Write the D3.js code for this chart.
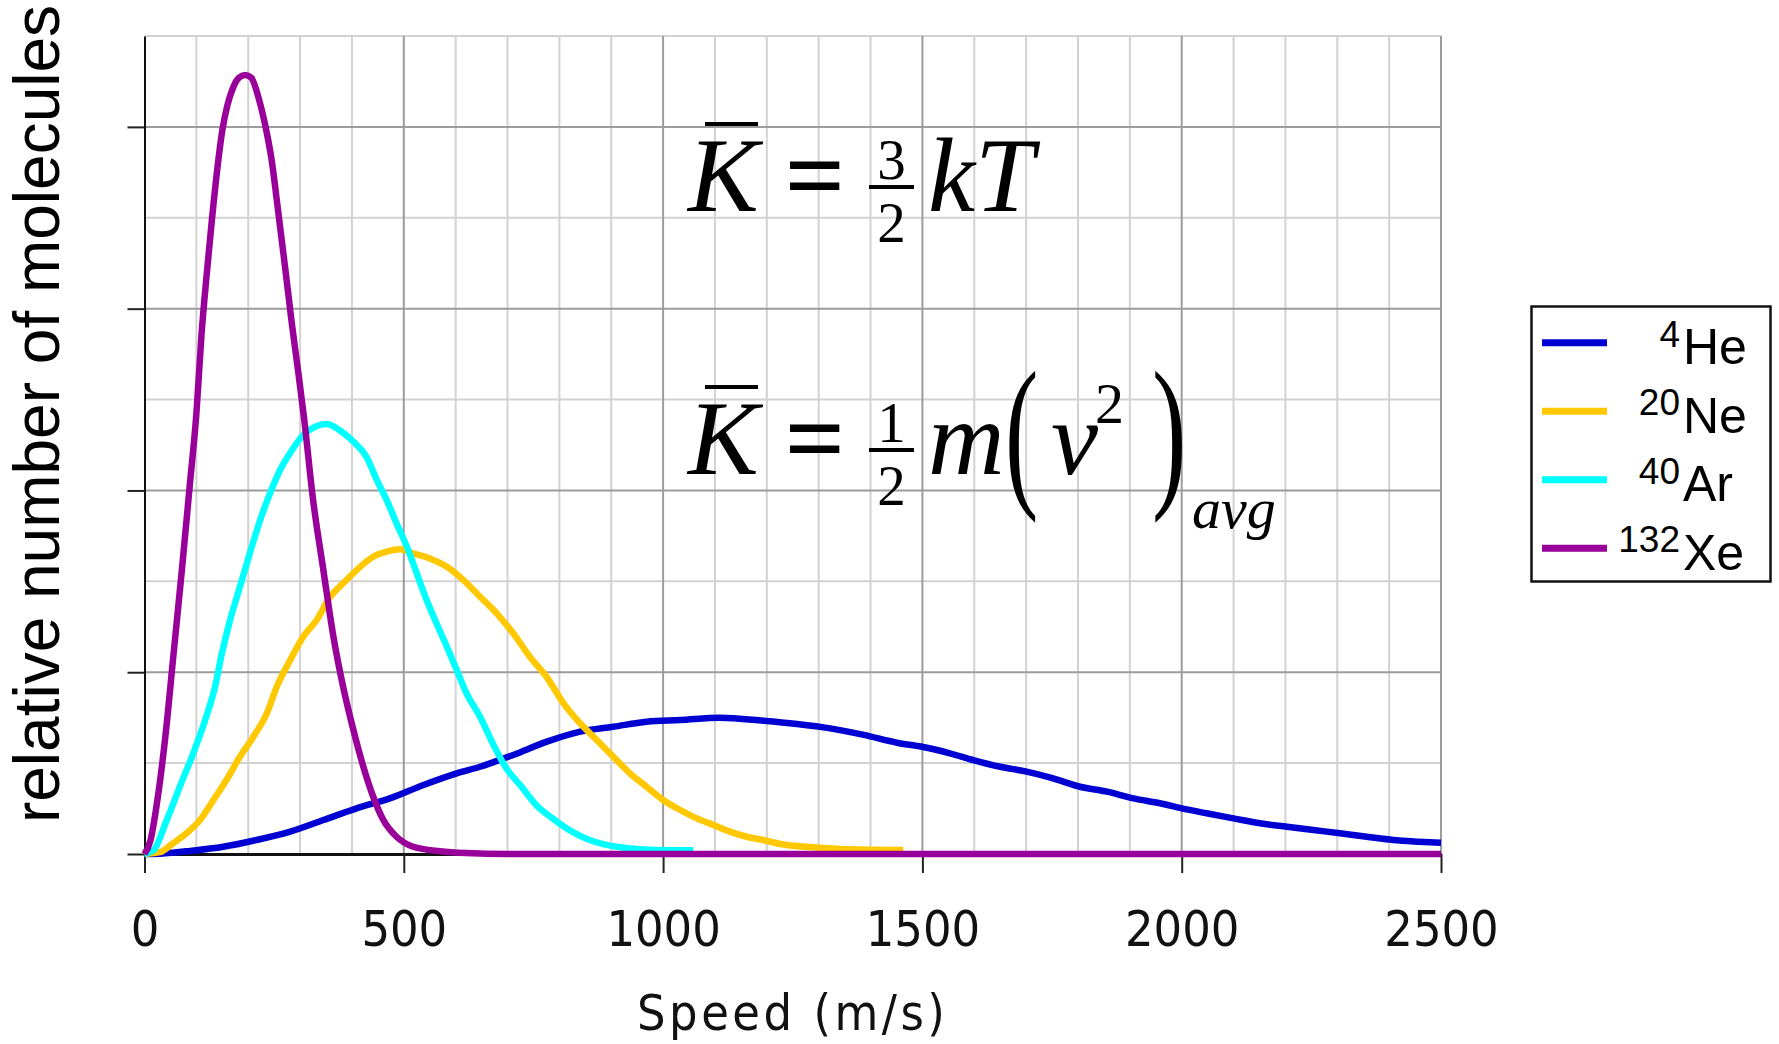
<!DOCTYPE html>
<html>
<head>
    <meta charset="utf-8">
    <title>Speed distribution of noble gas molecules</title>
    <script src="https://d3js.org/d3.v7.min.js"></script>
    <style>
        body {
            margin: 0;
            background: white;
        }
        .tick-label {
            font-family: 'DejaVu Sans Condensed', 'DejaVu Sans', sans-serif;
            font-stretch: condensed;
            font-size: 50px;
            fill: #111;
        }
        .eq {
            font-family: 'Liberation Serif', 'Times New Roman', serif;
            fill: black;
        }
        .legend-text {
            font-family: 'Liberation Sans', Arial, sans-serif;
            fill: black;
        }
    </style>
</head>
<body>
    <svg id='chart' width="1779" height="1044"></svg>

    <script>
        // speed (m/s) against relative number of molecules
        const he = [[0,0],[36,0.003],[88,0.017],[152,0.04],[216,0.077],[281,0.123],[345,0.187],[409,0.251],
            [473,0.306],[538,0.38],[602,0.444],[647,0.48],[711,0.545],[776,0.618],[840,0.673],[904,0.70],
            [968,0.728],[1033,0.737],[1110,0.75],[1193,0.733],[1258,0.715],[1322,0.691],[1387,0.655],
            [1451,0.612],[1499,0.59],[1553,0.554],[1598,0.517],[1650,0.48],[1701,0.453],[1752,0.416],
            [1804,0.37],[1856,0.343],[1907,0.306],[1958,0.279],[2000,0.251],[2048,0.224],[2100,0.196],
            [2151,0.169],[2203,0.15],[2254,0.132],[2305,0.114],[2357,0.095],[2408,0.077],[2456,0.068],[2500,0.062]];
        const ne = [[0,0],[30,0.01],[55,0.059],[81,0.114],[107,0.187],[133,0.297],[158,0.407],[184,0.535],
            [210,0.645],[236,0.774],[255,0.92],[281,1.067],[306,1.195],[332,1.287],[358,1.415],[383,1.489],
            [409,1.562],[441,1.635],[467,1.663],[493,1.676],[518,1.654],[550,1.626],[583,1.58],[615,1.507],
            [647,1.415],[679,1.324],[711,1.214],[743,1.085],[775,0.975],[808,0.829],[840,0.719],[872,0.627],
            [904,0.535],[936,0.444],[968,0.37],[1000,0.297],[1033,0.242],[1065,0.196],[1097,0.16],[1129,0.123],
            [1161,0.095],[1193,0.077],[1226,0.055],[1290,0.037],[1354,0.026],[1463,0.022]];
        const ar = [[0,0],[17,0.02],[43,0.187],[68,0.37],[94,0.554],[117,0.737],[136,0.92],[149,1.10],
            [165,1.287],[184,1.47],[203,1.654],[223,1.837],[242,1.984],[261,2.11],[284,2.22],[306,2.305],
            [329,2.35],[351,2.365],[377,2.33],[403,2.268],[428,2.185],[448,2.057],[467,1.947],[486,1.819],
            [506,1.69],[525,1.544],[544,1.397],[563,1.269],[583,1.14],[602,1.012],[621,0.884],[647,0.755],
            [673,0.60],[698,0.47],[727,0.37],[755,0.27],[785,0.20],[812,0.145],[840,0.10],[865,0.07],
            [891,0.05],[936,0.031],[988,0.022],[1058,0.02]];
        const xe = [[0,0],[12,0.08],[24,0.28],[40,0.64],[56,1.10],[72,1.56],[88,2.05],[100,2.42],[110,2.86],
            [120,3.19],[130,3.49],[140,3.76],[150,3.98],[160,4.12],[170,4.21],[182,4.27],[194,4.285],
            [206,4.27],[220,4.16],[232,4.02],[245,3.82],[258,3.53],[271,3.23],[284,2.92],[297,2.64],
            [308,2.39],[325,1.95],[345,1.56],[364,1.20],[383,0.92],[403,0.68],[422,0.48],[441,0.315],
            [460,0.19],[486,0.095],[518,0.04],[570,0.015],[620,0.005],[700,0],[2500,0]];

        const seriesNames = ['He', 'Ne', 'Ar', 'Xe'];
        const massNumbers = ['4', '20', '40', '132'];
        const seriesColors = ['#0000d2', '#ffc800', '#00ffff', '#990099'];
        const seriesData = [he, ne, ar, xe];

        const xTicks = [0, 500, 1000, 1500, 2000, 2500];
        const yTicks = [0, 1, 2, 3, 4];

        const margin = {top: 36, left: 144.5};
        const width = 1441 - margin.left;
        const height = 854 - margin.top;

        const svg = d3.select('#chart');
        const g = svg.append('g')
            .attr('transform', `translate(${margin.left},${margin.top})`);

        const x = d3.scaleLinear().domain([0, 2500]).range([0, width]);
        const y = d3.scaleLinear().domain([0, 4.5]).range([height, 0]);

        // grid: light every 100 m/s and half unit, darker at the labelled ticks
        g.selectAll('.vminor')
            .data(d3.range(100, 2501, 100).filter(d => d % 500 !== 0))
            .enter().append('line')
            .attr('x1', d => x(d)).attr('x2', d => x(d))
            .attr('y1', 0).attr('y2', height)
            .attr('stroke', '#d2d2d2').attr('stroke-width', 2);
        g.selectAll('.hminor')
            .data([0.5, 1.5, 2.5, 3.5, 4.5])
            .enter().append('line')
            .attr('x1', 0).attr('x2', width)
            .attr('y1', d => y(d)).attr('y2', d => y(d))
            .attr('stroke', '#d2d2d2').attr('stroke-width', 2);
        g.selectAll('.vmajor')
            .data(xTicks.slice(1))
            .enter().append('line')
            .attr('x1', d => x(d)).attr('x2', d => x(d))
            .attr('y1', 0).attr('y2', height)
            .attr('stroke', '#9c9c9c').attr('stroke-width', 2);
        g.selectAll('.hmajor')
            .data(yTicks.slice(1))
            .enter().append('line')
            .attr('x1', 0).attr('x2', width)
            .attr('y1', d => y(d)).attr('y2', d => y(d))
            .attr('stroke', '#9c9c9c').attr('stroke-width', 2);

        // axes
        const xAxis = d3.axisBottom(x)
            .tickValues(xTicks)
            .tickFormat(d3.format('d'))
            .tickSize(19)
            .tickSizeOuter(0)
            .tickPadding(37);
        const yAxis = d3.axisLeft(y)
            .tickValues(yTicks)
            .tickSize(17)
            .tickSizeOuter(0)
            .tickFormat('');

        const gy = g.append('g').call(yAxis);
        gy.select('.domain').attr('stroke', '#111').attr('stroke-width', 2);
        gy.selectAll('.tick line').attr('stroke', '#222').attr('stroke-width', 2);

        const gx = g.append('g')
            .attr('transform', `translate(0,${height})`)
            .call(xAxis);
        gx.select('.domain').attr('stroke', '#111').attr('stroke-width', 3);
        gx.selectAll('.tick line').attr('stroke', '#222').attr('stroke-width', 2);
        gx.selectAll('.tick text')
            .attr('class', 'tick-label')
            .attr('font-size', null)
            .attr('font-family', null);
        gx.attr('font-size', null).attr('font-family', null);
        gy.attr('font-size', null).attr('font-family', null);

        // curves
        const line = d3.line()
            .x(d => x(d[0]))
            .y(d => y(d[1]))
            .curve(d3.curveMonotoneX);

        g.selectAll('.curve')
            .data(seriesData)
            .enter().append('path')
            .attr('d', line)
            .attr('fill', 'none')
            .attr('stroke', (d, i) => seriesColors[i])
            .attr('stroke-width', 6.5)
            .attr('stroke-linejoin', 'round');

        // axis titles
        svg.append('text')
            .attr('class', 'tick-label')
            .attr('x', margin.left + width / 2)
            .attr('y', 1030)
            .style('text-anchor', 'middle')
            .style('letter-spacing', '3.5px')
            .text('Speed (m/s)');

        svg.append('text')
            .attr('transform', 'translate(59,414) rotate(-90)')
            .style('text-anchor', 'middle')
            .style('font-family', "'Liberation Sans', Arial, sans-serif")
            .style('font-size', '64px')
            .text('relative number of molecules');

        // equations
        function kBar(base) {
            svg.append('text').attr('class', 'eq')
                .attr('x', 688).attr('y', base)
                .style('font-size', '106px').style('font-style', 'italic')
                .text('K');
            svg.append('line')
                .attr('x1', 705).attr('x2', 758)
                .attr('y1', base - 87).attr('y2', base - 87)
                .attr('stroke', 'black').attr('stroke-width', 4);
            svg.append('text').attr('class', 'eq')
                .attr('x', 815).attr('y', base)
                .style('text-anchor', 'middle')
                .style('font-size', '106px').style('font-weight', 'bold')
                .text('=');
        }
        function fraction(base, num, den) {
            svg.append('line')
                .attr('x1', 869).attr('x2', 914)
                .attr('y1', base - 24).attr('y2', base - 24)
                .attr('stroke', 'black').attr('stroke-width', 4);
            svg.append('text').attr('class', 'eq')
                .attr('x', 891.5).attr('y', base - 32)
                .style('text-anchor', 'middle').style('font-size', '57px')
                .text(num);
            svg.append('text').attr('class', 'eq')
                .attr('x', 891.5).attr('y', base + 31)
                .style('text-anchor', 'middle').style('font-size', '57px')
                .text(den);
        }

        const b1 = 211, b2 = 474;
        kBar(b1);
        fraction(b1, '3', '2');
        svg.append('text').attr('class', 'eq')
            .attr('x', 928).attr('y', b1)
            .style('font-size', '106px').style('font-style', 'italic')
            .text('kT');

        kBar(b2);
        fraction(b2, '1', '2');
        svg.append('text').attr('class', 'eq')
            .attr('x', 928).attr('y', b2)
            .style('font-size', '106px').style('font-style', 'italic')
            .text('m');
        svg.append('text').attr('class', 'eq')
            .attr('transform', `translate(1005,${b2 + 13}) scale(0.6,1)`)
            .style('font-size', '167px')
            .text('(');
        svg.append('text').attr('class', 'eq')
            .attr('x', 1051).attr('y', b2)
            .style('font-size', '106px').style('font-style', 'italic')
            .text('v');
        svg.append('text').attr('class', 'eq')
            .attr('x', 1095).attr('y', 423)
            .style('font-size', '58px')
            .text('2');
        svg.append('text').attr('class', 'eq')
            .attr('transform', `translate(1152,${b2 + 13}) scale(0.62,1)`)
            .style('font-size', '167px')
            .text(')');
        svg.append('text').attr('class', 'eq')
            .attr('x', 1192).attr('y', 528)
            .style('font-size', '58px').style('font-style', 'italic')
            .text('avg');

        // legend
        const legend = svg.append('g');
        legend.append('rect')
            .attr('x', 1531.5).attr('y', 306.5)
            .attr('width', 239).attr('height', 275)
            .attr('fill', 'white')
            .attr('stroke', '#111').attr('stroke-width', 2.5);
        const rowY = i => 342.7 + i * 68.5;
        legend.selectAll('.key')
            .data(seriesNames)
            .enter().append('line')
            .attr('x1', 1542).attr('x2', 1607)
            .attr('y1', (d, i) => rowY(i)).attr('y2', (d, i) => rowY(i))
            .attr('stroke', (d, i) => seriesColors[i])
            .attr('stroke-width', 7);
        legend.selectAll('.mass')
            .data(massNumbers)
            .enter().append('text')
            .attr('class', 'legend-text')
            .attr('x', 1680)
            .attr('y', (d, i) => rowY(i) + 4)
            .style('text-anchor', 'end')
            .style('font-size', '37px')
            .text(d => d);
        legend.selectAll('.symbol')
            .data(seriesNames)
            .enter().append('text')
            .attr('class', 'legend-text')
            .attr('x', 1683)
            .attr('y', (d, i) => rowY(i) + 21.5)
            .style('font-size', '50px')
            .text(d => d);
    </script>
</body>
</html>
